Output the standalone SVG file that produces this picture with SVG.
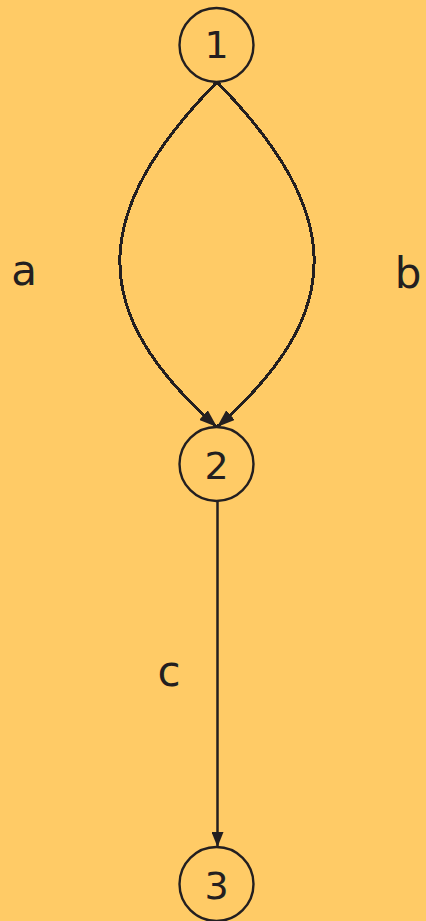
<svg xmlns="http://www.w3.org/2000/svg" width="426" height="921" viewBox="0 0 426 921">
<defs>
<style>
.node circle{fill:none;stroke:#231f20;stroke-width:2.4}
.node text,.lbl{font-family:"DejaVu Sans",sans-serif;fill:#231f20;text-anchor:middle}
.node text{font-size:38px}
.lbl{font-size:42px}
.edge{fill:none;stroke:#231f20;stroke-width:2.5}
.dotted{stroke-width:3;shape-rendering:crispEdges}
</style>
<marker id="ah" viewBox="0 0 18 13" refX="18" refY="6.5" markerWidth="18" markerHeight="13" markerUnits="userSpaceOnUse" orient="auto">
<path d="M0,0 L18,6.5 L0,13 Z" fill="#231f20"/>
</marker>
<marker id="ahv" viewBox="0 0 15 12" refX="15" refY="6" markerWidth="15" markerHeight="12" markerUnits="userSpaceOnUse" orient="auto">
<path d="M0,0 L15,6 L0,12 Z" fill="#231f20"/>
</marker>
</defs>
<rect width="426" height="921" fill="#ffcb66"/>
<g id="edges">
<path class="edge dotted" d="M217,82 C89,213 86,312 217,427" marker-end="url(#ah)"/>
<path class="edge dotted" d="M217,82 C345,213 348,312 217,427" marker-end="url(#ah)"/>
<path class="edge" d="M217.5,501 L217.5,847" marker-end="url(#ahv)"/>
<text class="lbl" x="24" y="285">a</text>
<text class="lbl" x="408" y="288">b</text>
<text class="lbl" x="169" y="686">c</text>
</g>
<g id="n1" class="node"><circle cx="216.5" cy="45" r="37"/><text x="216.5" y="58">1</text></g>
<g id="n2" class="node"><circle cx="216.5" cy="464" r="37"/><text x="216.5" y="479">2</text></g>
<g id="n3" class="node"><circle cx="216.5" cy="884" r="37"/><text x="216.5" y="899">3</text></g>
</svg>
